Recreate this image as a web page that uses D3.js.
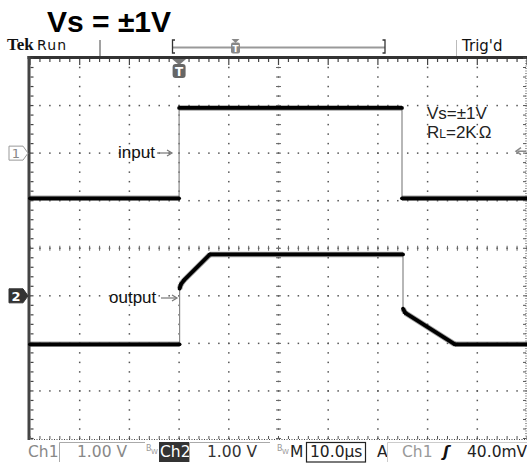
<!DOCTYPE html>
<html><head><meta charset="utf-8">
<script src="https://cdn.jsdelivr.net/npm/d3@7"></script>
<style>body{margin:0;background:#fff}svg{display:block}</style>
</head><body><svg id="c" width="527" height="466"></svg>
<script>
// ---------- data ----------
const title = "Vs = ±1V";
const timeDomain = [0, 100];      // µs : 10 div × 10.0 µs
const voltDomain = [-4, 4];       // divisions (1.00 V/div)
const ch1Ground = 2;              // div
const ch2Ground = -1;             // div
const inputTime  = [0, 30, 30, 74.85, 74.85, 100];
const inputVolts = [-0.95, -0.95, 0.95, 0.95, -0.95, -0.95];
const outputTime  = [0, 30.1, 30.1, 30.35, 31, 36.2, 75.05, 75.05, 75.5, 85.5, 100];
const outputVolts = [-1.02, -1.02, 0.15, 0.24, 0.33, 0.87, 0.87, -0.27, -0.36, -1.02, -1.02];
const triggerTime = 30;
const triggerLevel = 0.04;        // V (Ch1)
const readoutCh1 = ["Ch1", "1.00 V"];
const readoutCh2 = ["Ch2", "1.00 V"];
const readoutTime = ["M", "10.0µs"];
const readoutTrig = ["A", "Ch1", "ʃ", "40.0mV"];

// ---------- setup ----------
const svg = d3.select("#c");
const x = d3.scaleLinear().domain(timeDomain).range([30, 527]);
const y = d3.scaleLinear().domain(voltDomain).range([438.5, 58]);
const divX = (x(10) - x(0)), divY = (y(0) - y(1));

// ---------- graticule ----------
const g = svg.append("g");
// dotted grid lines
for (let i = 1; i < 10; i++) {
  for (let k = -20; k <= 20; k++) {
    g.append("rect").attr("x", x(i * 10) - 0.75).attr("y", y(k / 5) - 0.75)
      .attr("width", 1.5).attr("height", 1.5).attr("fill", "#555");
  }
}
for (let j = -3; j <= 3; j++) {
  for (let m = 0; m <= 50; m++) {
    g.append("rect").attr("x", x(m * 2) - 0.75).attr("y", y(j) - 0.75)
      .attr("width", 1.5).attr("height", 1.5).attr("fill", "#555");
  }
}
// centre line ticks
for (let k = -20; k <= 20; k++) {
  g.append("line").attr("x1", x(50) - 2.5).attr("x2", x(50) + 2.5)
    .attr("y1", y(k / 5)).attr("y2", y(k / 5)).attr("stroke", "#666").attr("stroke-width", 1);
}
for (let m = 0; m <= 50; m++) {
  g.append("line").attr("x1", x(m * 2)).attr("x2", x(m * 2))
    .attr("y1", y(0) - 2.5).attr("y2", y(0) + 2.5).attr("stroke", "#666").attr("stroke-width", 1);
}
// borders
g.append("line").attr("x1", 27.5).attr("x2", 527).attr("y1", 57.5).attr("y2", 57.5)
  .attr("stroke", "#333").attr("stroke-width", 3);
g.append("line").attr("x1", 29).attr("x2", 29).attr("y1", 56).attr("y2", 440)
  .attr("stroke", "#444").attr("stroke-width", 3);
g.append("line").attr("x1", 29).attr("x2", 527).attr("y1", 439.5).attr("y2", 439.5)
  .attr("stroke", "#444").attr("stroke-width", 1).attr("stroke-dasharray", "1,1.5");
g.append("line").attr("x1", 526).attr("x2", 526).attr("y1", 58).attr("y2", 440)
  .attr("stroke", "#444").attr("stroke-width", 1).attr("stroke-dasharray", "1,1.5");
for (let m = 0; m <= 50; m++) {
  const len = (m % 5 === 0) ? 6 : 3;
  g.append("line").attr("x1", x(m * 2)).attr("x2", x(m * 2)).attr("y1", 59).attr("y2", 59 + len)
    .attr("stroke", "#444").attr("stroke-width", 1.2);
  g.append("line").attr("x1", x(m * 2)).attr("x2", x(m * 2)).attr("y1", 439).attr("y2", 436)
    .attr("stroke", "#555").attr("stroke-width", 1);
}
for (let k = -20; k <= 20; k++) {
  g.append("line").attr("x1", 30.5).attr("x2", 33.5).attr("y1", y(k / 5)).attr("y2", y(k / 5))
    .attr("stroke", "#444").attr("stroke-width", 1.2);
  g.append("line").attr("x1", 526).attr("x2", 523).attr("y1", y(k / 5)).attr("y2", y(k / 5))
    .attr("stroke", "#555").attr("stroke-width", 1);
}

// ---------- waveforms ----------
function drawTrace(times, volts, ground) {
  const pts = times.map((t, i) => [x(t), y(volts[i] + ground)]);
  const line = d3.line();
  svg.append("path").attr("d", line(pts)).attr("fill", "none")
    .attr("stroke", "#888").attr("stroke-width", 1.2);
  for (let i = 0; i < pts.length - 1; i++) {
    if (times[i + 1] === times[i]) continue;
    const seg = [pts[i], pts[i + 1]];
    svg.append("path").attr("d", line(seg)).attr("fill", "none")
      .attr("stroke", "#555").attr("stroke-width", 5.5).attr("stroke-opacity", 0.55);
    svg.append("path").attr("d", line(seg)).attr("fill", "none")
      .attr("stroke", "#000").attr("stroke-width", 3.8).attr("stroke-linecap", "round");
  }
}
drawTrace(inputTime, inputVolts, ch1Ground);
drawTrace(outputTime, outputVolts, ch2Ground);

// ---------- labels in graticule ----------
const sans = "'Liberation Sans', Arial, sans-serif";
svg.append("text").attr("x", 118).attr("y", 158).attr("font-family", sans)
  .attr("font-size", 17).attr("fill", "#111").text("input");
svg.append("text").attr("x", 109).attr("y", 303).attr("font-family", sans)
  .attr("font-size", 17).attr("fill", "#111").text("output");
function arrow(x1, x2, yy) {
  svg.append("line").attr("x1", x1).attr("x2", x2 - 1).attr("y1", yy).attr("y2", yy)
    .attr("stroke", "#777").attr("stroke-width", 1.2);
  svg.append("path").attr("d", `M${x2 - 5},${yy - 3} L${x2},${yy} L${x2 - 5},${yy + 3}`)
    .attr("fill", "none").attr("stroke", "#777").attr("stroke-width", 1.2);
}
arrow(157, 172, 153);
arrow(161, 177, 298);

const note = svg.append("g").attr("font-family", sans).attr("fill", "#222");
note.append("text").attr("x", 427).attr("y", 118.5).attr("font-size", 17).text("Vs=±1V");
const rl = note.append("text").attr("x", 427).attr("y", 138).attr("font-size", 17);
rl.append("tspan").text("R");
rl.append("tspan").attr("font-size", 12).text("L");
rl.append("tspan").text("=2K");
rl.append("tspan").attr("dx", 2).text("Ω");

// channel markers
function chMarker(label, ground, filled) {
  const yy = y(ground);
  svg.append("path")
    .attr("d", `M9,${yy - 7} L23,${yy - 7} L28,${yy} L23,${yy + 7} L9,${yy + 7} Z`)
    .attr("fill", filled ? "#333" : "#fff").attr("stroke", filled ? "#333" : "#999")
    .attr("stroke-width", 1);
  svg.append("text").attr("x", 16).attr("y", yy + 5).attr("text-anchor", "middle")
    .attr("font-family", "'DejaVu Sans', sans-serif").attr("font-size", 13)
    .attr("font-weight", filled ? "bold" : "normal")
    .attr("fill", filled ? "#fff" : "#888").text(label);
}
chMarker("1", ch1Ground, false);
chMarker("2", ch2Ground, true);

// trigger level arrow (right)
{
  const yy = y(ch1Ground + triggerLevel);
  svg.append("line").attr("x1", 518).attr("x2", 526).attr("y1", yy).attr("y2", yy)
    .attr("stroke", "#888").attr("stroke-width", 1.5);
  svg.append("path").attr("d", `M521,${yy - 3.5} L516,${yy} L521,${yy + 3.5}`)
    .attr("fill", "none").attr("stroke", "#888").attr("stroke-width", 1.5);
}

// trigger position marker
{
  const tx = x(triggerTime);
  svg.append("path").attr("d", `M${tx - 7},59 L${tx + 7},59 L${tx},65 Z`).attr("fill", "#777");
  svg.append("rect").attr("x", tx - 6.5).attr("y", 64).attr("width", 13).attr("height", 14)
    .attr("rx", 3).attr("fill", "#666");
  svg.append("text").attr("x", tx).attr("y", 76).attr("text-anchor", "middle")
    .attr("font-family", "'DejaVu Sans', sans-serif").attr("font-weight", "bold")
    .attr("font-size", 12).attr("fill", "#fff").text("T");
}

// ---------- header ----------
svg.append("text").attr("x", 47).attr("y", 32).attr("font-family", sans)
  .attr("font-weight", "bold").attr("font-size", 30).attr("fill", "#000").text(title);
svg.append("text").attr("x", 7).attr("y", 50).attr("font-family", "'Liberation Serif', serif")
  .attr("font-weight", "bold").attr("font-size", 17).attr("fill", "#111").text("Tek");
svg.append("text").attr("x", 37).attr("y", 50).attr("font-family", "'DejaVu Sans', sans-serif")
  .attr("font-size", 14).attr("letter-spacing", 1.2).attr("fill", "#111").text("Run");
svg.append("line").attr("x1", 100).attr("x2", 100).attr("y1", 40).attr("y2", 56)
  .attr("stroke", "#444").attr("stroke-width", 1);
// record view bracket
svg.append("line").attr("x1", 173).attr("x2", 385).attr("y1", 47.5).attr("y2", 47.5)
  .attr("stroke", "#999").attr("stroke-width", 2);
svg.append("path").attr("d", "M175,40 L172.5,40 L172.5,53 L175,53").attr("fill", "none")
  .attr("stroke", "#333").attr("stroke-width", 1.3);
svg.append("path").attr("d", "M382.5,40 L385,40 L385,53 L382.5,53").attr("fill", "none")
  .attr("stroke", "#333").attr("stroke-width", 1.3);
svg.append("path").attr("d", "M231.5,39 L239.5,39 L235.5,43 Z").attr("fill", "#888");
svg.append("rect").attr("x", 231).attr("y", 42.5).attr("width", 9).attr("height", 11)
  .attr("rx", 2).attr("fill", "#888");
svg.append("text").attr("x", 235.5).attr("y", 52).attr("text-anchor", "middle")
  .attr("font-family", "'DejaVu Sans', sans-serif").attr("font-weight", "bold")
  .attr("font-size", 9).attr("fill", "#fff").text("T");
svg.append("line").attr("x1", 456.5).attr("x2", 456.5).attr("y1", 40).attr("y2", 56)
  .attr("stroke", "#bbb").attr("stroke-width", 1);
svg.append("text").attr("x", 462).attr("y", 51).attr("font-family", "'DejaVu Sans', sans-serif")
  .attr("font-size", 15).attr("fill", "#111").text("Trig'd");

// ---------- bottom readout ----------
const ro = svg.append("g").attr("font-family", "'DejaVu Sans', sans-serif").attr("font-size", 15.5);
const by = 457;
ro.append("text").attr("x", 28).attr("y", by).attr("fill", "#888").text(readoutCh1[0]);
ro.append("path").attr("d", "M59.5,462 L59.5,442.5 L145,442.5").attr("fill", "none")
  .attr("stroke", "#aaa").attr("stroke-width", 1);
ro.append("text").attr("x", 77).attr("y", by).attr("fill", "#888").text(readoutCh1[1]);
ro.append("text").attr("x", 146).attr("y", 451).attr("font-size", 8).attr("fill", "#999").text("B");
ro.append("text").attr("x", 151).attr("y", 454).attr("font-size", 7).attr("fill", "#999").text("W");
ro.append("rect").attr("x", 159).attr("y", 442).attr("width", 30).attr("height", 20).attr("fill", "#333");
ro.append("text").attr("x", 160).attr("y", by).attr("fill", "#fff").text(readoutCh2[0]);
ro.append("path").attr("d", "M189.5,462 L189.5,442.5 L270,442.5").attr("fill", "none")
  .attr("stroke", "#aaa").attr("stroke-width", 1);
ro.append("text").attr("x", 207).attr("y", by).attr("fill", "#333").text(readoutCh2[1]);
ro.append("text").attr("x", 277).attr("y", 451).attr("font-size", 8).attr("fill", "#999").text("B");
ro.append("text").attr("x", 282).attr("y", 454).attr("font-size", 7).attr("fill", "#999").text("W");
ro.append("text").attr("x", 290).attr("y", by).attr("fill", "#222").text(readoutTime[0]);
ro.append("rect").attr("x", 306.5).attr("y", 442.5).attr("width", 59).attr("height", 19.5)
  .attr("fill", "none").attr("stroke", "#222").attr("stroke-width", 1.2);
ro.append("text").attr("x", 310).attr("y", by).attr("fill", "#222").text(readoutTime[1]);
ro.append("text").attr("x", 377).attr("y", by).attr("fill", "#222").text(readoutTrig[0]);
ro.append("path").attr("d", "M387.5,462 L387.5,442.5 L527,442.5").attr("fill", "none")
  .attr("stroke", "#ccc").attr("stroke-width", 1);
ro.append("text").attr("x", 402).attr("y", by).attr("fill", "#999").text(readoutTrig[1]);
ro.append("text").attr("x", 443).attr("y", by).attr("fill", "#111").attr("font-weight", "bold")
  .attr("font-style", "italic").text(readoutTrig[2]);
ro.append("text").attr("x", 467).attr("y", by).attr("fill", "#222").text(readoutTrig[3]);
</script>
</body></html>
